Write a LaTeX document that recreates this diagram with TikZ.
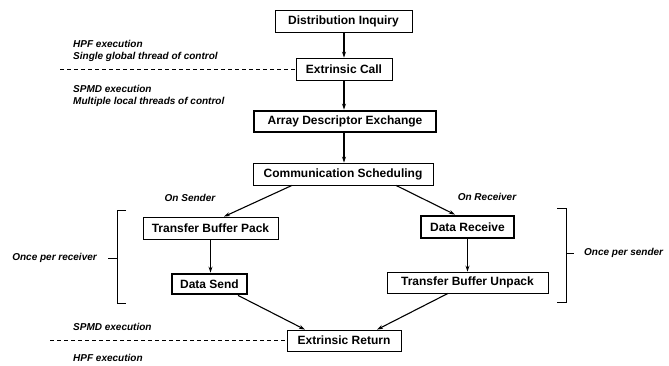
\documentclass[tikz,border=0pt]{standalone}
\usepackage{fontspec}
\setmainfont{Liberation Sans}
\usetikzlibrary{arrows.meta}
\begin{document}
\begin{tikzpicture}[x=1pt,y=-1pt,
  box/.style={draw=black,line width=0.8pt,inner sep=0pt,font=\bfseries\fontsize{12}{14}\selectfont},
  thickbox/.style={box,line width=2.8pt},
  lbl/.style={inner sep=0pt,font=\bfseries\itshape\fontsize{10}{12}\selectfont},
  arr/.style={line width=1.1pt,-{Stealth[length=6pt,width=4pt]}},
  brk/.style={line width=0.8pt},
  sepline/.style={line width=0.6pt,dash pattern=on 4pt off 3pt}]
\useasboundingbox (0,0) rectangle (669,366);
\node[box,minimum width=137pt,minimum height=22pt] (di) at (343.5,21) {Distribution Inquiry};
\node[box,minimum width=96pt,minimum height=22pt] (ec) at (344,69) {Extrinsic Call};
\node[thickbox,minimum width=182pt,minimum height=21pt] (ade) at (345,121.5) {Array Descriptor Exchange};
\node[box,minimum width=180pt,minimum height=22pt] (cs) at (343,174) {Communication Scheduling};
\node[box,minimum width=135pt,minimum height=22pt] (tbp) at (210.5,228) {Transfer Buffer Pack};
\node[thickbox,minimum width=93pt,minimum height=22pt] (dr) at (467.5,227) {Data Receive};
\node[thickbox,minimum width=75pt,minimum height=20pt] (ds) at (209.5,284) {Data Send};
\node[box,minimum width=161pt,minimum height=21pt] (tbu) at (467.5,282.5) {Transfer Buffer Unpack};
\node[box,minimum width=114pt,minimum height=21pt] (er) at (344,340.5) {Extrinsic Return};

\draw[arr] (di.south -| ec.north) -- (ec.north);
\draw[arr] (ec.south) -- (ec.south |- ade.north);
\draw[arr] (ec.south |- ade.south) -- (ec.south |- cs.north);
\draw[arr] ([xshift=-51pt]cs.south) -- ([xshift=13.5pt]tbp.north);
\draw[arr] ([xshift=53pt]cs.south) -- ([xshift=-12.5pt]dr.north);
\draw[arr] (tbp.south) -- (tbp.south |- ds.north);
\draw[arr] (dr.south) -- (dr.south |- tbu.north);
\draw[arr] ([xshift=28.5pt]ds.south) -- ([xshift=-39pt]er.north);
\draw[arr] ([xshift=-19.5pt]tbu.south) -- ([xshift=33pt]er.north);

\coordinate (d1) at (60,69);
\coordinate (d2) at (50,340.5);
\draw[sepline] (d1) -- (ec.west);
\draw[sepline] (d2) -- (er.west);

\node[lbl,anchor=west] (l1) at (73,44) {HPF execution};
\node[lbl,anchor=west] (l2) at (73,57) {Single global thread of control};
\node[lbl,anchor=west] (l3) at (73,89) {SPMD execution};
\node[lbl,anchor=west] (l4) at (73,102) {Multiple local threads of control};
\node[lbl,anchor=west] (l5) at (73,327) {SPMD execution};
\node[lbl,anchor=west] (l6) at (73,358) {HPF execution};
\node[lbl] (os) at (190,198) {On Sender};
\node[lbl] (or) at (487,197) {On Receiver};
\node[lbl,anchor=east] (opr) at (97,258) {Once per receiver};
\node[lbl,anchor=west] (ops) at (584,253) {Once per sender};

\draw[brk] (126,210) -- (117,210) -- (117,303) -- (126,303);
\draw[brk] (108,258) -- (117,258);
\draw[brk] (557,208) -- (566,208) -- (566,302) -- (557,302);
\draw[brk] (566,253) -- (574,253);
\end{tikzpicture}
\end{document}
